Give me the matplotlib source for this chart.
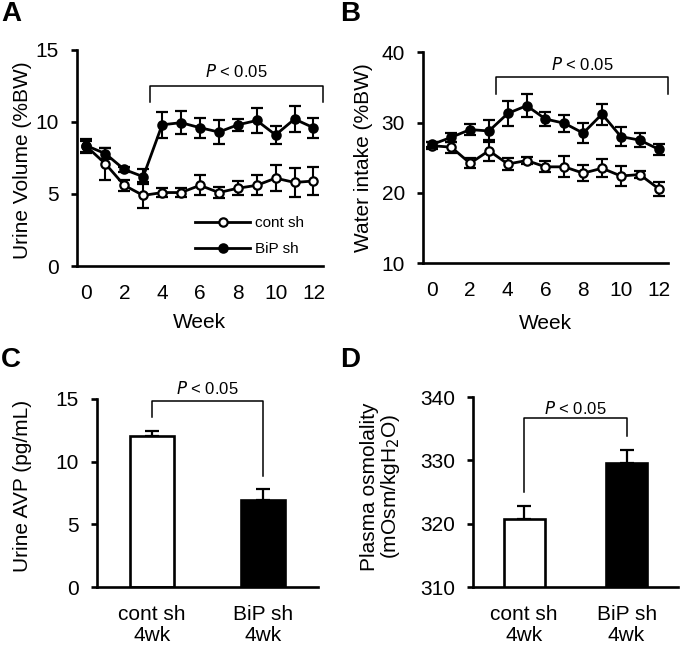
import numpy as np
import matplotlib
matplotlib.use('Agg')
import matplotlib.pyplot as plt

plt.rcParams['font.family'] = ['Liberation Sans', 'DejaVu Sans']

# 데이터 ----
weeks = np.arange(13)

# A: urine volume (%BW)
uv_cont = [8.3, 7.1, 5.6, 4.9, 5.1, 5.1, 5.6, 5.1, 5.4, 5.6, 6.1, 5.8, 5.9]
uv_cont_err = [0.4, 1.1, 0.4, 0.9, 0.3, 0.3, 0.7, 0.4, 0.5, 0.7, 0.9, 1.0, 1.0]
uv_bip = [8.35, 7.8, 6.7, 6.2, 9.8, 9.95, 9.6, 9.3, 9.8, 10.1, 9.1, 10.2, 9.6]
uv_bip_err = [0.5, 0.4, 0.2, 0.5, 0.9, 0.8, 0.7, 0.8, 0.4, 0.9, 0.6, 0.9, 0.7]

# B: water intake (%BW)
wi_cont = [26.7, 26.5, 24.2, 26.0, 24.1, 24.6, 23.7, 23.7, 22.8, 23.5, 22.4, 22.6, 20.6]
wi_cont_err = [0.5, 0.8, 0.7, 1.5, 0.9, 0.5, 0.8, 1.5, 1.1, 1.3, 1.4, 0.5, 1.0]
wi_bip = [26.9, 27.9, 29.0, 28.8, 31.3, 32.4, 30.5, 29.9, 28.5, 31.2, 28.0, 27.5, 26.2]
wi_bip_err = [0.4, 0.6, 0.8, 1.5, 1.8, 1.6, 1.0, 1.2, 1.4, 1.5, 1.4, 1.0, 0.8]

# C, D: bars
groups = ['cont sh\n4wk', 'BiP sh\n4wk']
avp = [12.05, 6.93]
avp_err = [0.42, 0.93]
osm = [320.8, 329.6]
osm_err = [2.0, 2.1]

fig = plt.figure(figsize=(6.85, 6.53), dpi=100)

ax_a = fig.add_axes([0.1124, 0.5926, 0.359, 0.331])
ax_b = fig.add_axes([0.6175, 0.597, 0.3577, 0.323])
ax_c = fig.add_axes([0.1416, 0.101, 0.3226, 0.288])
ax_d = fig.add_axes([0.6905, 0.101, 0.299, 0.291])


def style_axis(ax):
    for s in ['top', 'right']:
        ax.spines[s].set_visible(False)
    for s in ['left', 'bottom']:
        ax.spines[s].set_linewidth(1.9)
    ax.tick_params(axis='y', direction='out', length=4, width=1.9, labelsize=15, pad=9)
    ax.tick_params(axis='x', length=0, labelsize=15, pad=13)


def bracket(ax, x0, x1, top, y0, y1, ytext):
    ax.plot([x0, x0, x1, x1], [y0, top, top, y1], color='black', lw=1.1, clip_on=False)
    ax.text((x0 + x1) / 2, ytext, r'$\it{P}$ < 0.05', ha='center', va='center', fontsize=12)


def line_panel(ax, cont, cont_err, bip, bip_err):
    ax.errorbar(weeks, cont, yerr=cont_err, color='black', lw=2.0, marker='o', ms=6,
                mfc='white', mec='black', mew=1.6, capsize=4.5, elinewidth=1.5, capthick=1.5,
                label='cont sh', zorder=3)
    ax.errorbar(weeks, bip, yerr=bip_err, color='black', lw=2.0, marker='o', ms=6,
                mfc='black', mec='black', mew=1.6, capsize=4.5, elinewidth=1.5, capthick=1.5,
                label='BiP sh', zorder=4)
    ax.set_xlim(-0.5, 12.5)
    ax.set_xticks(range(0, 13, 2))
    ax.set_xlabel('Week', fontsize=15)
    style_axis(ax)


# A ----
line_panel(ax_a, uv_cont, uv_cont_err, uv_bip, uv_bip_err)
ax_a.set_ylim(0, 15)
ax_a.set_yticks([0, 5, 10, 15])
ax_a.set_ylabel('Urine Volume (%BW)', fontsize=15)
ax_a.yaxis.set_label_coords(-0.183, 0.49)
ax_a.xaxis.set_label_coords(0.5, -0.218)
bracket(ax_a, 3.35, 12.5, 12.5, 11.4, 11.4, 13.5)
handles, labels = ax_a.get_legend_handles_labels()
handles = [h[0] for h in handles]
ax_a.legend(handles, labels, loc='upper left', bbox_to_anchor=(0.48, 0.232), frameon=False,
            fontsize=11, handlelength=3.6, handletextpad=0.3, labelspacing=0.8,
            borderpad=0, borderaxespad=0)

# B ----
line_panel(ax_b, wi_cont, wi_cont_err, wi_bip, wi_bip_err)
ax_b.set_ylim(10, 40)
ax_b.set_yticks([10, 20, 30, 40])
ax_b.set_ylabel('Water intake (%BW)', fontsize=15)
ax_b.yaxis.set_label_coords(-0.204, 0.5)
ax_b.xaxis.set_label_coords(0.5, -0.242)
bracket(ax_b, 3.37, 12.5, 36.45, 34.1, 34.1, 38.3)


# C, D ----
def bar_panel(ax, vals, errs):
    x = np.arange(len(groups))
    ax.bar(x, vals, width=0.4, color=['white', 'black'], edgecolor='black', linewidth=1.9, zorder=2)
    ax.errorbar(x, vals, yerr=[[0, 0], errs], fmt='none', ecolor='black', elinewidth=1.6,
                capsize=4.7, capthick=1.6, zorder=1)
    ax.set_xlim(-0.5, 1.5)
    ax.set_xticks(x)
    ax.set_xticklabels(groups, fontsize=15, linespacing=1.15)
    style_axis(ax)


bar_panel(ax_c, avp, avp_err)
ax_c.set_ylim(0, 15)
ax_c.set_yticks([0, 5, 10, 15])
ax_c.set_ylabel('Urine AVP (pg/mL)', fontsize=15)
ax_c.yaxis.set_label_coords(-0.294, 0.537)
bracket(ax_c, 0, 1, 14.83, 13.6, 8.85, 15.85)

bar_panel(ax_d, osm, osm_err)
ax_d.set_ylim(310, 340)
ax_d.set_yticks([310, 320, 330, 340])
ax_d.set_ylabel('Plasma osmolality\n(mOsm/kgH$_2$O)', fontsize=15, linespacing=1.0)
ax_d.yaxis.set_label_coords(-0.346, 0.53)
bracket(ax_d, 0, 1, 336.7, 325.0, 333.8, 338.2)

# 패널 문자
for lab, x, y in [('A', 0.002, 0.998), ('B', 0.497, 0.998), ('C', 0.002, 0.468), ('D', 0.497, 0.468)]:
    fig.text(x, y, lab, fontsize=20, fontweight='bold', ha='left', va='top')

fig.savefig('out.png', dpi=100)
